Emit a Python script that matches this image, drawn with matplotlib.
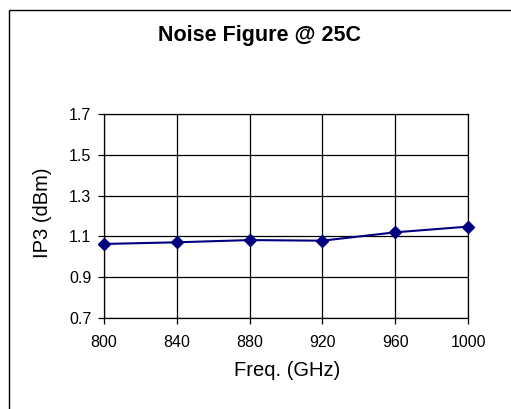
import matplotlib
matplotlib.use("Agg")
import matplotlib.pyplot as plt
from matplotlib.patches import Rectangle

plt.rcParams['font.family'] = ['Liberation Sans', 'DejaVu Sans']

# data
freq = [800, 840, 880, 920, 960, 1000]
ip3 = [1.063, 1.071, 1.082, 1.079, 1.12, 1.148]
x_ticks = [800, 840, 880, 920, 960, 1000]
y_ticks = [0.7, 0.9, 1.1, 1.3, 1.5, 1.7]

W, H = 511, 409
fig = plt.figure(figsize=(W / 100, H / 100), dpi=100)
fig.patch.set_facecolor('white')

# outer chart frame (clipped on right and bottom like the reference)
fig.patches.append(Rectangle((9 / W, -0.05), 1.2, 1 - 10 / H + 0.05,
                             transform=fig.transFigure, fill=False,
                             edgecolor='black', linewidth=1.0))

# plot area in pixel coordinates
left, right, top, bottom = 104, 468, 114, 318
ax = fig.add_axes([left / W, 1 - bottom / H, (right - left) / W, (bottom - top) / H])

ax.plot(freq, ip3, color='#000080', linewidth=1.5, marker='D',
        markersize=6.2, markerfacecolor='#000080', markeredgecolor='#000080',
        zorder=3, clip_on=False)

ax.set_xlim(800, 1000)
ax.set_ylim(0.7, 1.7)
ax.set_xticks(x_ticks)
ax.set_yticks(y_ticks)
ax.set_yticklabels([f"{v:.1f}" for v in y_ticks])
ax.grid(True, color='black', linewidth=0.9)
ax.set_axisbelow(True)
for s in ax.spines.values():
    s.set_linewidth(0.9)
ax.tick_params(direction='out', length=4, width=0.9, labelsize=11.5)
ax.tick_params(axis='x', pad=8)
ax.tick_params(axis='y', pad=5)

ax.set_xlabel("Freq. (GHz)", fontsize=14.5)
ax.set_ylabel("IP3 (dBm)", fontsize=14.5)
# label centres from the reference, in pixels
ax.xaxis.set_label_coords((287 - left) / (right - left), -(371 - bottom) / (bottom - top))
ax.yaxis.set_label_coords(-(left - 43) / (right - left), (bottom - 213) / (bottom - top))
ax.xaxis.label.set_va('center')
ax.yaxis.label.set_va('center')

fig.text(260 / W, 1 - 36 / H, "Noise Figure @ 25C", ha='center', va='center',
         fontsize=15.5, fontweight='bold')

fig.savefig("out.png", dpi=100)
